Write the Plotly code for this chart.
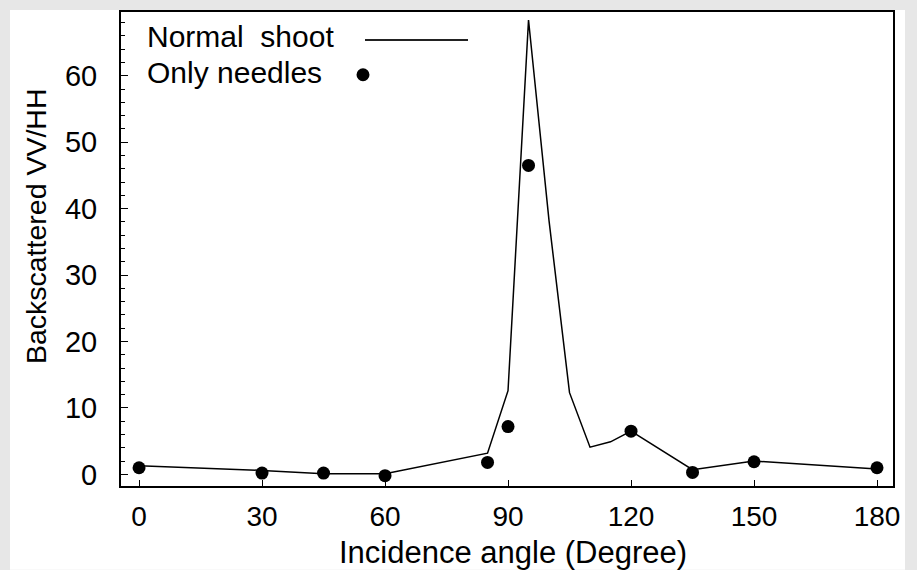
import plotly.graph_objects as go

# Data
shoot_angle = [0, 30, 45, 60, 85, 90, 95, 100, 105, 110, 115, 120, 135, 150, 180]
shoot_ratio = [1.3, 0.6, 0.1, 0.1, 3.2, 12.6, 68.4, 38.2, 12.3, 4.1, 4.9, 6.5, 0.7, 2.0, 0.8]

needle_angle = [0, 30, 45, 60, 85, 90, 95, 120, 135, 150, 180]
needle_ratio = [1.0, 0.2, 0.2, -0.2, 1.8, 7.2, 46.5, 6.5, 0.3, 1.9, 1.0]

x_ticks = [0, 30, 60, 90, 120, 150, 180]
y_ticks = [0, 10, 20, 30, 40, 50, 60]

FONT = "Liberation Sans, Arial, sans-serif"

fig = go.Figure()
fig.add_trace(go.Scatter(x=shoot_angle, y=shoot_ratio, mode="lines",
                         line=dict(color="black", width=1.5),
                         name="Normal shoot", showlegend=False))
fig.add_trace(go.Scatter(x=needle_angle, y=needle_ratio, mode="markers",
                         marker=dict(color="black", size=13, symbol="circle"),
                         name="Only needles", showlegend=False))

W, H = 917, 570
L, R, T, B = 121, 893, 10, 486
def px(x):
    return (x - L) / (R - L)
def py(y):
    return (B - y) / (B - T)

shapes = [
    # white page area over light gray surround
    dict(type="rect", xref="paper", yref="paper", layer="below",
         x0=px(10), x1=px(905), y0=py(570), y1=py(8),
         fillcolor="white", line=dict(width=0)),
    # legend line sample
    dict(type="line", xref="paper", yref="paper",
         x0=px(365), x1=px(468), y0=py(38), y1=py(38),
         line=dict(color="#222", width=2)),
    # legend dot sample
    dict(type="circle", xref="paper", yref="paper",
         x0=px(363 - 6.5), x1=px(363 + 6.5), y0=py(73 + 6.5), y1=py(73 - 6.5),
         fillcolor="black", line=dict(color="black", width=0)),
]

annotations = [
    dict(text="Normal  shoot", xref="paper", yref="paper", x=px(145), y=py(35),
         xanchor="left", yanchor="middle", showarrow=False,
         font=dict(family=FONT, size=30, color="black")),
    dict(text="Only needles", xref="paper", yref="paper", x=px(145), y=py(71),
         xanchor="left", yanchor="middle", showarrow=False,
         font=dict(family=FONT, size=30, color="black")),
    dict(text="Incidence angle (Degree)", xref="paper", yref="paper",
         x=px(513), y=py(553), xanchor="center", yanchor="middle", showarrow=False,
         font=dict(family=FONT, size=31, color="black")),
    dict(text="Backscattered VV/HH", xref="paper", yref="paper",
         x=px(36), y=py(225), xanchor="center", yanchor="middle", showarrow=False,
         textangle=-90, font=dict(family=FONT, size=28.5, color="black")),
]

fig.update_layout(
    width=W, height=H,
    margin=dict(l=L, r=W - R, t=T, b=H - B, pad=0),
    paper_bgcolor="#e7e7e7",
    plot_bgcolor="white",
    font=dict(family=FONT, size=24, color="black"),
    shapes=shapes,
    annotations=annotations,
    showlegend=False,
)
fig.update_xaxes(range=[-4.4, 183.9], tickvals=x_ticks, ticks="inside", ticklen=6,
                 tickwidth=1, tickcolor="black", showgrid=False, zeroline=False,
                 showline=True, linecolor="black", linewidth=2, mirror=True,
                 ticklabelstandoff=4, tickfont=dict(family=FONT, size=28))
fig.update_yaxes(range=[-1.75, 69.6], tickvals=y_ticks, ticks="inside", ticklen=7,
                 tickwidth=1, tickcolor="black", showgrid=False, zeroline=False,
                 showline=True, linecolor="black", linewidth=2, mirror=True,
                 minor=dict(dtick=2, ticks="inside", ticklen=4, tickcolor="black", tickwidth=1),
                 ticklabelstandoff=16, tickfont=dict(family=FONT, size=29))

fig.write_html("out.html")
